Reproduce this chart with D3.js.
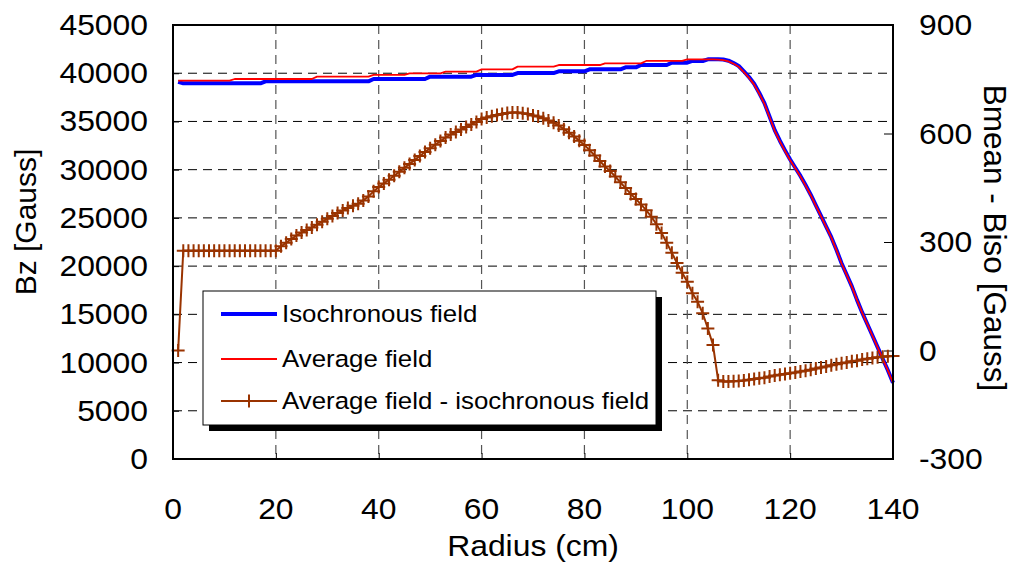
<!DOCTYPE html>
<html><head><meta charset="utf-8">
<script src="https://cdn.jsdelivr.net/npm/d3@7"></script>
<style>
body{margin:0;background:#fff;}
text{font-family:"Liberation Sans",Arial,sans-serif;fill:#000;}
</style>
</head><body>
<svg id="chart" width="1015" height="573"></svg>
<script>
// ---------------- DATA ----------------
const radius = [1,2,3,4,5,6,7,8,9,10,11,12,13,14,15,16,17,18,19,20,
 21,22,23,24,25,26,27,28,29,30,31,32,33,34,35,36,37,38,39,40,
 41,42,43,44,45,46,47,48,49,50,51,52,53,54,55,56,57,58,59,60,
 61,62,63,64,65,66,67,68,69,70,71,72,73,74,75,76,77,78,79,80,
 81,82,83,84,85,86,87,88,89,90,91,92,93,94,95,96,97,98,99,100,
 101,102,103,104,105,106,107,108,109,110,111,112,113,114,115,116,117,118,119,120,
 121,122,123,124,125,126,127,128,129,130,131,132,133,134,135,136,137,138,139,140];

// Isochronous field Bz [Gauss]
const isoField = [39100,38950,38950,38950,38950,38950,38950,38950,38950,38950,38950,38950,38950,38950,38950,38950,38950,39160,39160,39160,
 39160,39160,39160,39160,39160,39160,39160,39160,39160,39160,39160,39160,39160,39160,39160,39160,39160,39160,39400,39400,
 39400,39400,39400,39400,39400,39400,39400,39400,39400,39640,39640,39640,39640,39640,39640,39640,39640,39640,39820,39820,
 39820,39820,39820,39820,39820,39820,40020,40020,40020,40020,40020,40020,40020,40020,40200,40200,40200,40200,40200,40200,
 40400,40400,40400,40400,40400,40400,40400,40610,40610,40610,40850,40850,40850,40850,40850,40850,41090,41090,41090,41090,
 41270,41270,41270,41440,41440,41440,41420,41300,41050,40750,40200,39600,38900,37950,36900,35500,34100,33000,32000,31050,
 30200,29350,28400,27400,26300,25200,24100,23000,21700,20300,19100,17900,16500,15200,14000,12800,11600,10400,9200,7900];

// Average field Bz [Gauss]
const avgField = [39230,39230,39230,39230,39230,39230,39230,39230,39230,39230,39230,39400,39400,39400,39400,39400,39400,39400,39400,39400,
 39400,39400,39400,39400,39400,39400,39400,39640,39640,39640,39640,39640,39640,39640,39640,39640,39640,39640,39820,39820,
 39820,39820,39820,39820,39820,39990,39990,39990,39990,39990,39990,39990,40160,40160,40160,40160,40160,40160,40160,40400,
 40400,40400,40400,40400,40400,40400,40680,40680,40680,40680,40680,40680,40680,40680,40850,40850,40850,40850,40850,40850,
 40850,40850,40850,41020,41020,41020,41020,41020,41020,41020,41020,41270,41270,41270,41270,41270,41270,41270,41270,41440,
 41440,41440,41440,41440,41440,41400,41350,41230,40980,40670,40120,39520,38820,37870,36820,35430,34030,32930,31930,30980,
 30140,29290,28340,27350,26250,25150,24060,22960,21660,20270,19070,17880,16480,15180,13980,12780,11580,10380,9180,7880];

// Bmean - Biso [Gauss]
const diffField = [0,276,276,276,276,276,276,276,276,276,276,276,276,276,276,276,276,276,276,276,
 288,298,308,318,326,333,340,348,356,364,372,380,387,394,400,406,415,426,440,452,
 462,472,483,494,505,516,527,538,549,559,569,579,589,597,604,611,618,625,632,640,
 644,648,651,654,657,658,658,656,654,650,647,642,636,630,622,612,602,592,580,568,
 554,539,524,509,496,481,465,449,433,419,404,388,370,349,325,298,270,242,215,190,
 158,135,103,61,15,-82,-86,-86,-85,-84,-83,-81,-79,-77,-75,-72,-69,-67,-65,-63,
 -61,-58,-56,-53,-50,-47,-44,-41,-38,-35,-33,-30,-28,-25,-23,-21,-19,-17,-16,-15];

const xTicks = [0,20,40,60,80,100,120,140];
const leftTicks = [0,5000,10000,15000,20000,25000,30000,35000,40000,45000];
const rightTicks = [-300,0,300,600,900];
const seriesNames = ["Isochronous field","Average field","Average field - isochronous field"];
const xTitle = "Radius (cm)";
const yLeftTitle = "Bz [Gauss]";
const yRightTitle = "Bmean - Biso [Gauss]";

// ---------------- LAYOUT ----------------
const svg = d3.select("#chart");
const L = 173, R = 893, T = 25, B = 459;
const SX = 1.08; // horizontal text stretch seen in the original

const x = d3.scaleLinear().domain([0,140]).range([L,R]);
const yL = d3.scaleLinear().domain([0,45000]).range([B,T]);
const yR = d3.scaleLinear().domain([-300,900]).range([B,T]);

function txt(px, py, s, size, anchor, rot, sx){
  const k = sx === undefined ? SX : sx;
  const g = svg.append("g").attr("transform", `translate(${px},${py}) scale(${k},1)` + (rot ? ` rotate(${rot})` : ""));
  g.append("text").attr("x",0).attr("y",0).attr("text-anchor",anchor).attr("font-size",size).text(s);
  return g;
}

// gridlines
const grid = svg.append("g");
grid.selectAll("line.h").data(leftTicks.filter(d=>d>0 && d<45000)).enter().append("line")
  .attr("x1",L).attr("x2",R).attr("y1",d=>yL(d)).attr("y2",d=>yL(d))
  .attr("stroke","#000").attr("stroke-width",1).attr("stroke-dasharray","9,6");
grid.selectAll("line.v").data(xTicks.filter(d=>d>0 && d<140)).enter().append("line")
  .attr("x1",d=>x(d)).attr("x2",d=>x(d)).attr("y1",T).attr("y2",B)
  .attr("stroke","#555").attr("stroke-width",1.2).attr("stroke-dasharray","9,6");

// axes ticks (inward)
svg.append("g").attr("transform",`translate(${L},0)`)
  .call(d3.axisLeft(yL).tickValues(leftTicks).tickSize(-6).tickFormat(""))
  .call(g=>g.select(".domain").remove());
svg.append("g").attr("transform",`translate(${R},0)`)
  .call(d3.axisRight(yR).tickValues(rightTicks).tickSize(-9).tickFormat(""))
  .call(g=>g.select(".domain").remove());
svg.append("g").attr("transform",`translate(0,${B})`)
  .call(d3.axisBottom(x).tickValues(xTicks).tickSize(-6).tickFormat(""))
  .call(g=>g.select(".domain").remove());

// series
const lineIso = d3.line().x((d,i)=>x(radius[i])).y(d=>yL(d));
const lineDiff = d3.line().x((d,i)=>x(radius[i])).y(d=>yR(d));
svg.append("path").datum(isoField).attr("d",lineIso).attr("fill","none")
  .attr("stroke","#0000ff").attr("stroke-width",4).attr("stroke-linejoin","round");
svg.append("path").datum(avgField).attr("d",lineIso).attr("fill","none")
  .attr("stroke","#ff0000").attr("stroke-width",1.8).attr("stroke-linejoin","round");
svg.append("path").datum(diffField).attr("d",lineDiff).attr("fill","none")
  .attr("stroke","#993300").attr("stroke-width",2);
function plusPath(cx, cy, s){ return `M${cx-s},${cy}H${cx+s}M${cx},${cy-s}V${cy+s}`; }
svg.append("g").selectAll("path").data(diffField).enter().append("path")
  .attr("d",(d,i)=>plusPath(x(radius[i]), yR(d), 6.5))
  .attr("stroke","#993300").attr("stroke-width",2).attr("fill","none");

// plot border
svg.append("rect").attr("x",L).attr("y",T).attr("width",R-L).attr("height",B-T)
  .attr("fill","none").attr("stroke","#000").attr("stroke-width",2);

// tick labels
leftTicks.forEach(v=>txt(148, yL(v)+10, String(v), 29.5, "end"));
rightTicks.forEach(v=>txt(919, yR(v)+10, String(v), 29.5, "start"));
xTicks.forEach(v=>txt(x(v), 519, String(v), 29.5, "middle"));

// titles
txt(533, 556, xTitle, 29.5, "middle");
txt(36, 222, yLeftTitle, 30, "middle", -90, 1);
txt(984, 238, yRightTitle, 31.5, "middle", 90, 1);

// legend
const lg = {x:203, y:291, w:453, h:134};
svg.append("rect").attr("x",lg.x+6).attr("y",lg.y+6).attr("width",lg.w).attr("height",lg.h).attr("fill","#000");
svg.append("rect").attr("x",lg.x).attr("y",lg.y).attr("width",lg.w).attr("height",lg.h).attr("fill","#fff").attr("stroke","#000").attr("stroke-width",1);
const legendStyles = [{c:"#0000ff",w:4,m:false},{c:"#ff0000",w:1.8,m:false},{c:"#993300",w:2,m:true}];
const legendY = [314, 359, 401];
seriesNames.forEach((name,i)=>{
  const st = legendStyles[i], yy = legendY[i];
  svg.append("line").attr("x1",221).attr("x2",277).attr("y1",yy).attr("y2",yy).attr("stroke",st.c).attr("stroke-width",st.w);
  if(st.m) svg.append("path").attr("d",plusPath(249,yy,6.5)).attr("stroke",st.c).attr("stroke-width",2);
  txt(282, yy+8, name, 23.5, "start", 0, 1.1);
});
</script>
</body></html>
